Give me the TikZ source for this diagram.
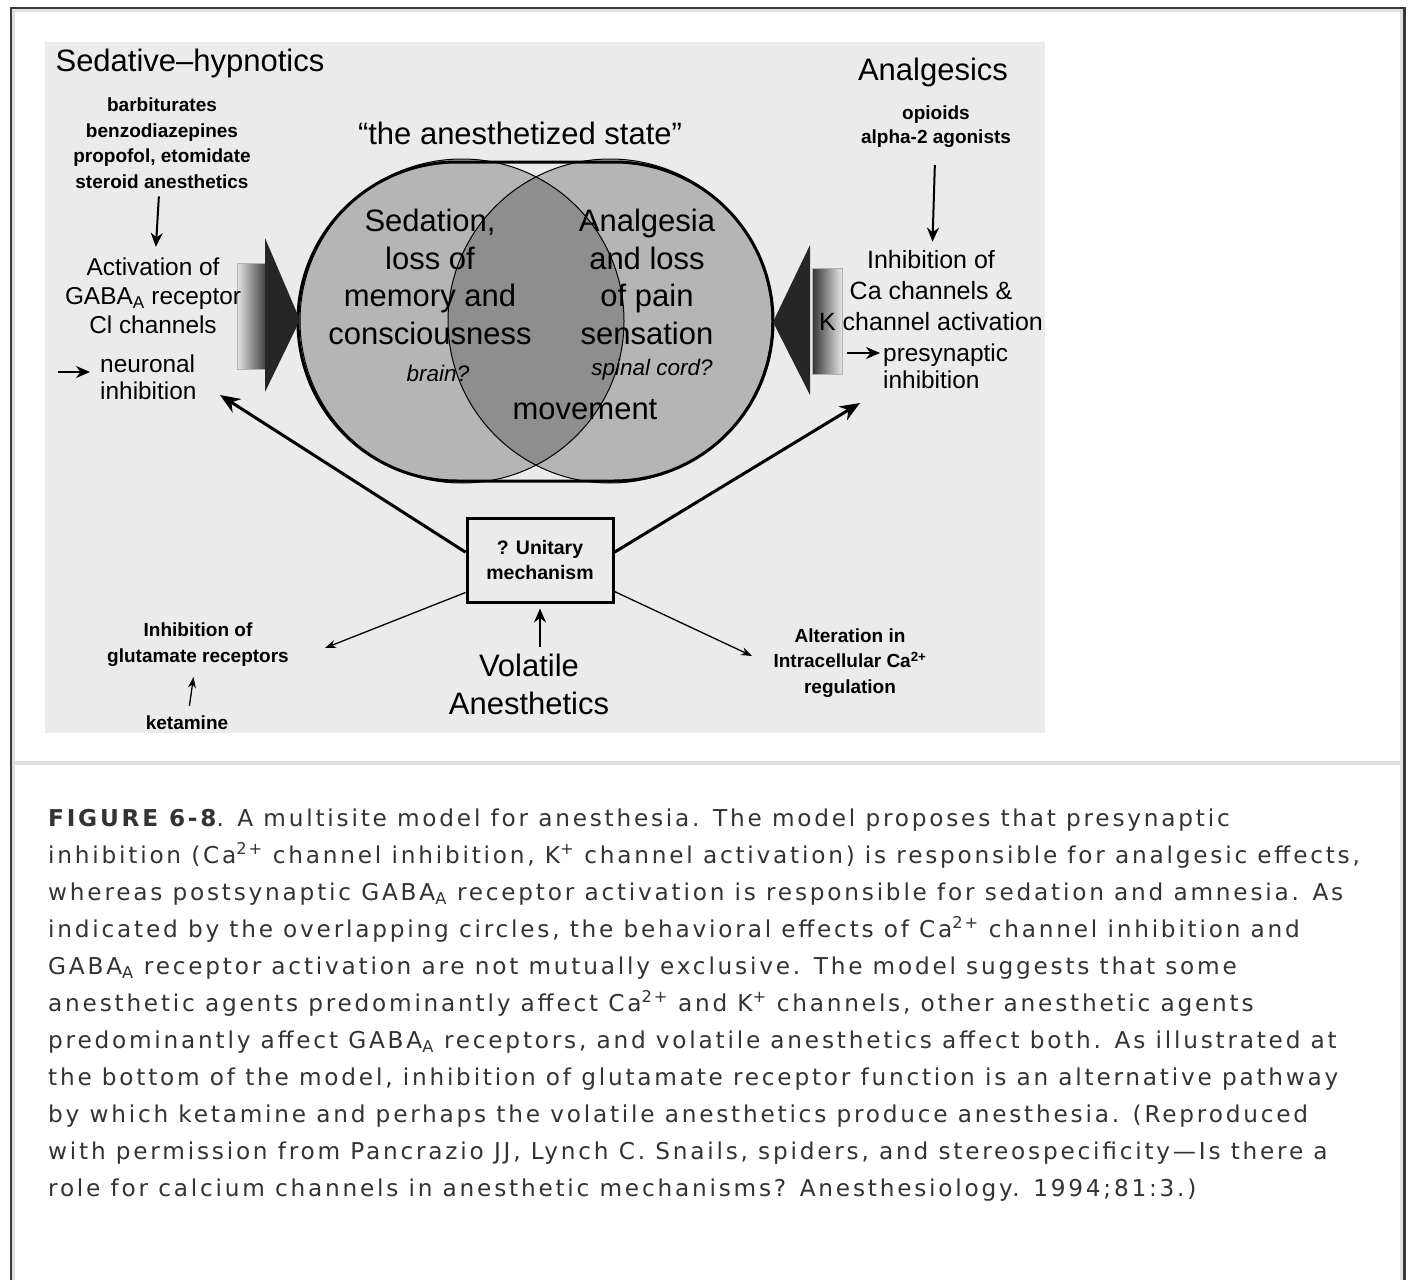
\documentclass[tikz,border=0pt]{standalone}
\usepackage{fontspec}
\setmainfont{Liberation Sans}
\newfontfamily\capfont{DejaVu Sans}[LetterSpace=12]
\usetikzlibrary{arrows.meta}
\definecolor{slide}{HTML}{EBEBEB}
\definecolor{disc}{HTML}{B5B5B5}
\definecolor{lens}{HTML}{8E8E8E}
\definecolor{framec}{HTML}{3A3A3A}
\definecolor{rulec}{HTML}{E0E0E0}
\newcommand{\fs}[2]{\fontsize{#1}{#2}\selectfont}
\tikzset{
  txt/.style={inner sep=0pt, align=center},
  big/.style={txt, font=\fs{31}{37.7}},
  mid/.style={txt, font=\fs{24.4}{29}},
  bsml/.style={txt, font=\bfseries\fs{19}{25.5}},
  itl/.style={txt, font=\itshape\fs{22.5}{26}},
  bigarr/.style={line width=3pt, -{Stealth[length=20pt,width=16pt]}},
  midarr/.style={line width=2pt, -{Stealth[length=14pt,width=12pt]}},
  thinarr/.style={line width=1.3pt, -{Stealth[length=11pt,width=8pt]}}
}
\begin{document}
\begin{tikzpicture}[x=1pt,y=-1pt]
\useasboundingbox (0,0) rectangle (1410,1279);
\fill[white] (0,0) rectangle (1410,1279);
% page frame
\draw[rulec,line width=3pt] (13.5,1290)--(13.5,10.5)--(1401.5,10.5)--(1401.5,1290);
\draw[framec,line width=2.5pt] (11,1290)--(11,8)--(1404.5,8)--(1404.5,1290);
\draw[rulec,line width=4pt] (13.5,763)--(1401.5,763);
\fill[slide] (45,42) rectangle (1045,733);

% the two circles
\fill[disc] (462,321) circle (162);
\fill[disc] (610,321) circle (162);
\begin{scope}
\clip (462,321) circle (162);
\fill[lens] (610,321) circle (162);
\end{scope}
\draw[line width=1pt] (462,321) circle (162) (610,321) circle (162);
\draw[line width=3pt, rounded corners=159pt] (298,162) rectangle (773,481);

% shaded arrows
\shadedraw[draw=gray!60, line width=.8pt, left color=gray!20, right color=black!80] (237,263) rectangle (268,369);
\fill[black!85] (265,238) -- (300,320) -- (265,392) -- cycle;
\shadedraw[draw=gray!60, line width=.8pt, left color=black!80, right color=gray!20] (812,268) rectangle (842,374);
\fill[black!85] (810,245) -- (773,322) -- (810,395) -- cycle;

% left side
\node[big] (sedhyp) at (190,63) {Sedative--hypnotics};
\node[bsml] (drugs) at (162,143) {barbiturates\\benzodiazepines\\propofol, etomidate\\steroid anesthetics};
\node[mid] (gaba) at (153,296) {Activation of\\GABA\textsubscript{A} receptor\\Cl channels};
\draw[midarr, shorten <=8pt, shorten >=11pt] (drugs) -- (gaba);
\node[mid, align=left, anchor=west, font=\fs{24.4}{27}] (neur) at (100,377) {neuronal\\inhibition};
\coordinate (narr) at (58,372);
\draw[midarr, shorten >=10pt] (narr) -- (neur.west |- narr);

% circles text
\node[big] (state) at (520,133) {“the anesthetized state”};
\node[big] (sed) at (430,277) {Sedation,\\loss of\\memory and\\consciousness};
\node[itl] (brain) at (438,373) {brain?};
\node[big] (anal) at (647,277) {Analgesia\\and loss\\of pain\\sensation};
\node[itl] (spinal) at (652,370) {spinal cord?};
\node[big] (move) at (585,410) {movement};

% right side
\node[big] (analg) at (933,72) {Analgesics};
\node[bsml, font=\bfseries\fs{19}{24}] (opi) at (936,127) {opioids\\alpha-2 agonists};
\node[txt, font=\fs{25}{31}] (inh) at (931,291) {Inhibition of\\Ca channels \&\\K channel activation};
\draw[midarr, shorten <=17pt, shorten >=9pt] (opi) -- (inh);
\node[mid, align=left, anchor=west, font=\fs{24.4}{27}] (pre) at (883,366) {presynaptic\\inhibition};
\coordinate (parr) at (847,353);
\draw[midarr, shorten >=3pt] (parr) -- (pre.west |- parr);

% bottom
\node[draw, line width=3pt, minimum width=146pt, minimum height=84pt, align=center, font=\bfseries\fs{19.5}{25}] (unit) at (540,560) {? Unitary\\mechanism};
\coordinate (ltip) at (220,395);
\coordinate (rtip) at (860,403);
\draw[bigarr] (unit.174) -- (ltip);
\draw[bigarr] (unit.6) -- (rtip);
\node[txt, font=\fs{31}{38}] (vol) at (529,684) {Volatile\\Anesthetics};
\draw[midarr, shorten <=6pt, shorten >=5pt] (unit.south |- vol.north) -- (unit.south);
\node[bsml, font=\bfseries\fs{19}{26}] (glut) at (198,645) {Inhibition of\\glutamate receptors};
\node[bsml] (ket) at (187,723) {ketamine};
\draw[thinarr, shorten <=10pt, shorten >=10pt] (ket) -- (glut);
\node[bsml] (alt) at (850,663) {Alteration in\\Intracellular Ca\textsuperscript{2+}\\regulation};
\coordinate (gtip) at (325,648);
\coordinate (atip) at (752,656);
\draw[thinarr] ([yshift=11pt]unit.south west) -- (gtip);
\draw[thinarr] ([yshift=12pt]unit.south east) -- (atip);

% caption
\node[anchor=north west, align=left, inner sep=0pt, text=black!80, font=\capfont\fs{23.2}{37}] (caption) at (48,808.5) {%
\textbf{FIGURE 6-8}. A multisite model for anesthesia. The model proposes that presynaptic\\
inhibition (Ca\textsuperscript{2+} channel inhibition, K\textsuperscript{+} channel activation) is responsible for analgesic effects,\\
whereas postsynaptic GABA\textsubscript{A} receptor activation is responsible for sedation and amnesia. As\\
indicated by the overlapping circles, the behavioral effects of Ca\textsuperscript{2+} channel inhibition and\\
GABA\textsubscript{A} receptor activation are not mutually exclusive. The model suggests that some\\
anesthetic agents predominantly affect Ca\textsuperscript{2+} and K\textsuperscript{+} channels, other anesthetic agents\\
predominantly affect GABA\textsubscript{A} receptors, and volatile anesthetics affect both. As illustrated at\\
the bottom of the model, inhibition of glutamate receptor function is an alternative pathway\\
by which ketamine and perhaps the volatile anesthetics produce anesthesia. (Reproduced\\
with permission from Pancrazio JJ, Lynch C. Snails, spiders, and stereospecificity\textemdash Is there a\\
role for calcium channels in anesthetic mechanisms? Anesthesiology. 1994;81:3.)};
\end{tikzpicture}
\end{document}
